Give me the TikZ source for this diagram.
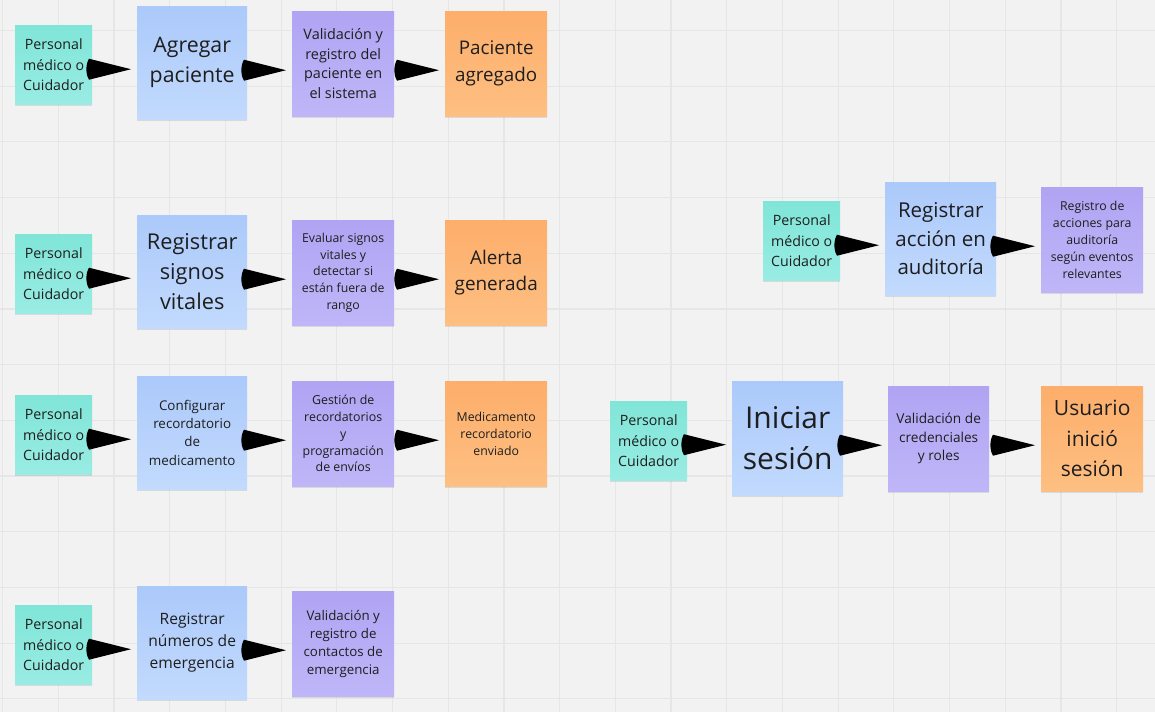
\documentclass[tikz,border=0pt]{standalone}
\usepackage{fontspec}
\setmainfont{Open Sans}
\usetikzlibrary{calc,shadows}
\definecolor{bg}{HTML}{F2F2F2}
\definecolor{gridc}{HTML}{E6E6E6}
\definecolor{tealT}{HTML}{80E5D8}
\definecolor{tealB}{HTML}{99ECE3}
\definecolor{blueT}{HTML}{ABC9FA}
\definecolor{blueB}{HTML}{C2DAFD}
\definecolor{purT}{HTML}{B0A4F3}
\definecolor{purB}{HTML}{BFB6F8}
\definecolor{orT}{HTML}{FDAE6B}
\definecolor{orB}{HTML}{FDBF82}
\definecolor{txt}{HTML}{1E1E1E}
\newcommand\fs[2]{\fontsize{#1}{#2}\selectfont}
% connector: from source #1 to target #2 (big filled arrowhead)
\newcommand\conn[2]{%
  \coordinate (tp) at ($(#2.west)+(-6,6.5)$);
  \fill[arrowc] (tp) -- ($(tp)+(-42,-10.5)$)
    .. controls ($(tp)+(-45.5,-5)$) and ($(tp)+(-45.5,5)$) .. ($(tp)+(-42,10.5)$) -- cycle;}
\tikzset{
  box/.style={inner sep=0pt, align=center, anchor=north west, text=txt,
    general shadow={fill=black, opacity=0.10, shadow yshift=-2pt}},
  tealbox/.style={box, top color=tealT, bottom color=tealB,
    minimum width=77pt, minimum height=79pt, font=\fs{14.2}{20.5}},
  bluebox/.style={box, top color=blueT, bottom color=blueB,
    minimum width=110pt, minimum height=113pt},
  purbox/.style={box, top color=purT, bottom color=purB,
    minimum width=102pt, minimum height=105pt},
  orbox/.style={box, top color=orT, bottom color=orB,
    minimum width=102pt, minimum height=105pt},
  arrowc/.style={fill=black},
  gridline/.style={draw=gridc, line width=1.2pt}
}
\begin{document}
\begin{tikzpicture}[x=1pt,y=-1pt]
\useasboundingbox (0,0) rectangle (1155,712);
\fill[bg] (0,0) rectangle (1155,712);
\foreach \i in {0,...,20} \draw[gridline] ({2.6+55.7*\i},0) -- ++(0,712);
\foreach \j in {0,...,12} \draw[gridline] (0,{30.4+55.7*\j}) -- ++(1155,0);

% Row 1
\node[tealbox] (t1) at (15,25) {Personal\\médico o\\Cuidador};
\node[bluebox, font=\fs{21.3}{30}] (b1) at (137,6) {Agregar\\paciente};
\node[purbox, font=\fs{14.4}{19.7}] (p1) at (292,11) {Validación y\\registro del\\paciente en\\el sistema};
\node[orbox, font=\fs{18.8}{27}] (o1) at (445,11) {Paciente\\agregado};

% Row 2
\node[tealbox] (t2) at (15,234) {Personal\\médico o\\Cuidador};
\node[bluebox, font=\fs{21.8}{30}] (b2) at (137,215) {Registrar\\signos\\vitales};
\node[purbox, font=\fs{12.3}{16.8}] (p2) at (292,220) {Evaluar signos\\vitales y\\detectar si\\están fuera de\\rango};
\node[orbox, font=\fs{18.9}{26.5}] (o2) at (445,220) {Alerta\\generada};

% Row 3
\node[tealbox] (t3) at (15,395) {Personal\\médico o\\Cuidador};
\node[bluebox, font=\fs{13.4}{18.3}] (b3) at (137,376) {Configurar\\recordatorio\\de\\medicamento};
\node[purbox, font=\fs{12.4}{16.7}] (p3) at (292,381) {Gestión de\\recordatorios\\y\\programación\\de envíos};
\node[orbox, font=\fs{12.3}{16.7}] (o3) at (445,381) {Medicamento\\recordatorio\\enviado};

% Row 4
\node[tealbox] (t4) at (15,605) {Personal\\médico o\\Cuidador};
\node[bluebox, font=\fs{15.6}{22}] (b4) at (137,586) {Registrar\\números de\\emergencia};
\node[purbox, font=\fs{13.3}{18}] (p4) at (292,591) {Validación y\\registro de\\contactos de\\emergencia};

% Audit group
\node[tealbox] (t5) at (763,201) {Personal\\médico o\\Cuidador};
\node[bluebox, minimum width=111pt, font=\fs{20.5}{28.7}] (b5) at (885,182) {Registrar\\acción en\\auditoría};
\node[purbox, font=\fs{12.3}{17}] (p5) at (1041,187) {Registro de\\acciones para\\auditoría\\según eventos\\relevantes};

% Login group
\node[tealbox] (t6) at (610,401) {Personal\\médico o\\Cuidador};
\node[bluebox, minimum width=111pt, minimum height=114pt, font=\fs{30}{41.7}] (b6) at (732,381) {Iniciar\\sesión};
\node[purbox, minimum width=101pt, font=\fs{13.65}{18.3}] (p6) at (888,386) {Validación de\\credenciales\\y roles};
\node[orbox, font=\fs{21}{30.5}] (o6) at (1041,386) {Usuario\\inició\\sesión};

% Connectors
\conn{t1}{b1} \conn{b1}{p1} \conn{p1}{o1}
\conn{t2}{b2} \conn{b2}{p2} \conn{p2}{o2}
\conn{t3}{b3} \conn{b3}{p3} \conn{p3}{o3}
\conn{t4}{b4} \conn{b4}{p4}
\conn{t5}{b5} \conn{b5}{p5}
\conn{t6}{b6} \conn{b6}{p6} \conn{p6}{o6}
\end{tikzpicture}
\end{document}
